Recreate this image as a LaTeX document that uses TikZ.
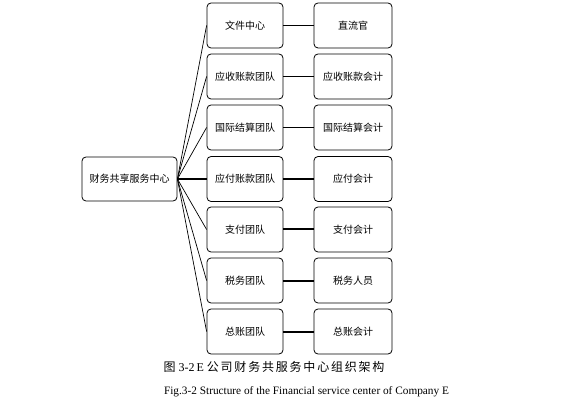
\documentclass[tikz,border=0pt]{standalone}
\usepackage{fontspec}
\setmainfont{Liberation Serif}
\newfontfamily\cjk{Noto Sans CJK SC}
\begin{document}
\begin{tikzpicture}[x=1pt,y=-1pt,
  box/.style={draw, rounded corners=4pt, minimum height=45pt, inner sep=0pt,
    line width=0.8pt, font=\cjk\fontsize{10}{12}\selectfont},
  midbox/.style={box, minimum width=76pt},
  rightbox/.style={box, minimum width=78pt},
  thin/.style={line width=0.7pt},
  thick/.style={line width=2pt}]
\useasboundingbox (0,0) rectangle (588,411);
\node[box, minimum width=95pt, minimum height=44pt] (root) at (129.5,179) {财务共享服务中心};
\node[midbox] (m1) at (245,25.5) {文件中心};
\node[midbox] (m2) at (245,76.5) {应收账款团队};
\node[midbox] (m3) at (245,127.5) {国际结算团队};
\node[midbox] (m4) at (245,179) {应付账款团队};
\node[midbox] (m5) at (245,229.5) {支付团队};
\node[midbox] (m6) at (245,280.5) {税务团队};
\node[midbox] (m7) at (245,331.5) {总账团队};
\node[rightbox] (r1) at (353,25.5) {直流官};
\node[rightbox] (r2) at (353,76.5) {应收账款会计};
\node[rightbox] (r3) at (353,127.5) {国际结算会计};
\node[rightbox] (r4) at (353,179) {应付会计};
\node[rightbox] (r5) at (353,229.5) {支付会计};
\node[rightbox] (r6) at (353,280.5) {税务人员};
\node[rightbox] (r7) at (353,331.5) {总账会计};
\foreach \i in {1,2,3,5,6,7} {\draw[thin] (root.east) -- (m\i.west);}
\draw[thick] (root.east) -- (m4.west);
\foreach \i in {1,2,3} {\draw[thin] (m\i) -- (r\i);}
\foreach \i in {4,5,6,7} {\draw[thick] (m\i) -- (r\i);}
\node (cap1) at (274,367) {\fontsize{12}{14}\selectfont{\cjk\addfontfeature{LetterSpace=15}图} 3-2\,E {\cjk\addfontfeature{LetterSpace=15}公司财务共服务中心组织架构}};
\node (cap2) at (306.5,392) {\fontsize{11.3}{13}\selectfont Fig.3-2 Structure of the Financial service center of Company E};
\end{tikzpicture}
\end{document}
